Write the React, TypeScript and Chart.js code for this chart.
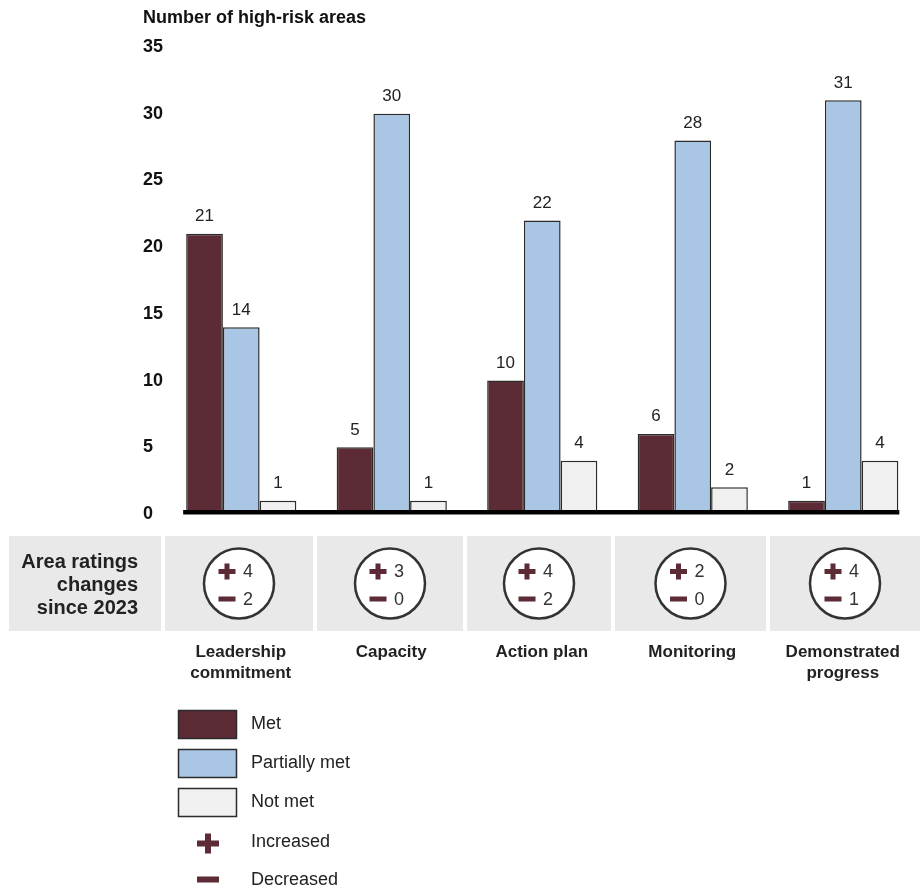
import React, { useEffect, useRef } from "react";
import { Chart, registerables } from "chart.js";

Chart.register(...registerables);

// Chart content
const axisTitle = "Number of high-risk areas";
const categories = [
  ["Leadership", "commitment"],
  ["Capacity"],
  ["Action plan"],
  ["Monitoring"],
  ["Demonstrated", "progress"],
];
const seriesNames = ["Met", "Partially met", "Not met"];
const metValues = [21, 5, 10, 6, 1];
const partiallyMetValues = [14, 30, 22, 28, 31];
const notMetValues = [1, 1, 4, 2, 4];
const increasedCounts = [4, 3, 4, 2, 4];
const decreasedCounts = [2, 0, 2, 0, 1];
const panelLabel = ["Area ratings", "changes", "since 2023"];
const markerNames = ["Increased", "Decreased"];
const yMin = 0;
const yMax = 35;
const yStep = 5;

// Styling
const FONT = '"Liberation Sans", Arial, Helvetica, sans-serif';
const MAROON = "#5c2b35";
const BLUE = "#a9c6e4";
const LIGHT = "#f0f0f0";
const EDGE = "#2b2b2b";
const PANEL = "#e9e9e9";
const TEXT = "#222222";
const seriesColors = [MAROON, BLUE, LIGHT];

// Horizontal extents of the grey cells in the ratings-change strip
const cellLefts = [165, 317, 467, 615, 770];
const cellRights = [313, 463, 611, 766, 920];

function drawPlus(ctx: CanvasRenderingContext2D, x: number, y: number, w: number, h: number, t: number) {
  ctx.fillStyle = MAROON;
  ctx.fillRect(x - w / 2, y - t / 2, w, t);
  ctx.fillRect(x - t / 2, y - h / 2, t, h);
}

function drawMinus(ctx: CanvasRenderingContext2D, x: number, y: number, w: number, t: number) {
  ctx.fillStyle = MAROON;
  ctx.fillRect(x - w / 2, y - t / 2, w, t);
}

const overlayPlugin = {
  id: "overlay",
  afterDatasetsDraw(chart: any) {
    const ctx: CanvasRenderingContext2D = chart.ctx;
    const area = chart.chartArea;
    const xs = chart.scales.x;
    ctx.save();

    // axis title
    ctx.fillStyle = "#111";
    ctx.font = `bold 18px ${FONT}`;
    ctx.textAlign = "left";
    ctx.textBaseline = "alphabetic";
    ctx.fillText(axisTitle, 143, 22.5);

    // value labels above bars
    ctx.font = `17px ${FONT}`;
    ctx.fillStyle = TEXT;
    ctx.textAlign = "center";
    chart.data.datasets.forEach((ds: any, di: number) => {
      const meta = chart.getDatasetMeta(di);
      meta.data.forEach((bar: any, i: number) => {
        ctx.fillText(String(ds.data[i]), bar.x, bar.y - 12.5);
      });
    });

    // heavy baseline
    const firstBar = chart.getDatasetMeta(0).data[0];
    const lastMeta = chart.getDatasetMeta(chart.data.datasets.length - 1);
    const lastBar = lastMeta.data[lastMeta.data.length - 1];
    const lineLeft = firstBar.x - firstBar.width / 2 - 3;
    const lineRight = lastBar.x + lastBar.width / 2 + 1;
    ctx.fillStyle = "#000";
    ctx.fillRect(lineLeft, area.bottom - 4, lineRight - lineLeft, 4.5);

    // ratings-change strip
    const panelTop = 536;
    const panelH = 95;
    ctx.fillStyle = PANEL;
    ctx.fillRect(9, panelTop, 152, panelH);
    ctx.fillStyle = TEXT;
    ctx.font = `bold 20px ${FONT}`;
    ctx.textAlign = "right";
    [568, 591, 614].forEach((y, i) => ctx.fillText(panelLabel[i], 138, y));

    categories.forEach((_, i) => {
      const left = cellLefts[i];
      const right = cellRights[i];
      ctx.fillStyle = PANEL;
      ctx.fillRect(left, panelTop, right - left, panelH);

      const cx = (left + right) / 2;
      const cy = 583.5;
      ctx.beginPath();
      ctx.arc(cx, cy, 35, 0, Math.PI * 2);
      ctx.fillStyle = "#fff";
      ctx.fill();
      ctx.lineWidth = 2.5;
      ctx.strokeStyle = "#333";
      ctx.stroke();

      drawPlus(ctx, cx - 12, cy - 12, 17, 16, 5);
      drawMinus(ctx, cx - 12, cy + 15.5, 17, 5);
      ctx.fillStyle = "#333";
      ctx.font = `18px ${FONT}`;
      ctx.textAlign = "left";
      ctx.fillText(String(increasedCounts[i]), cx + 4, cy - 6.5);
      ctx.fillText(String(decreasedCounts[i]), cx + 4, cy + 21.5);

      // category label
      const c = xs.getPixelForValue(i);
      ctx.fillStyle = TEXT;
      ctx.font = `bold 17px ${FONT}`;
      ctx.textAlign = "center";
      categories[i].forEach((line, li) => ctx.fillText(line, c - 0.5, 657 + li * 21));
    });

    // legend
    ctx.textAlign = "left";
    ctx.font = `18px ${FONT}`;
    seriesNames.forEach((name, i) => {
      const top = 710 + i * 39;
      ctx.fillStyle = seriesColors[i];
      ctx.fillRect(178, top, 59, 29);
      ctx.lineWidth = 1.5;
      ctx.strokeStyle = EDGE;
      ctx.strokeRect(178.5, top + 0.5, 58, 28);
      ctx.fillStyle = TEXT;
      ctx.fillText(name, 251, 729 + i * 39);
    });
    drawPlus(ctx, 208, 843.5, 22, 20, 6);
    ctx.fillStyle = TEXT;
    ctx.fillText(markerNames[0], 251, 846.5);
    drawMinus(ctx, 208, 879.5, 22, 6);
    ctx.fillStyle = TEXT;
    ctx.fillText(markerNames[1], 251, 885);

    ctx.restore();
  },
};

export default function App() {
  const canvasRef = useRef<HTMLCanvasElement | null>(null);

  useEffect(() => {
    const canvas = canvasRef.current;
    if (!canvas) return;
    const chart = new Chart(canvas, {
      type: "bar",
      data: {
        labels: categories.map((c) => c.join(" ")),
        datasets: [
          { label: seriesNames[0], data: metValues, backgroundColor: MAROON },
          { label: seriesNames[1], data: partiallyMetValues, backgroundColor: BLUE },
          { label: seriesNames[2], data: notMetValues, backgroundColor: LIGHT },
        ].map((d) => ({
          ...d,
          borderColor: EDGE,
          borderWidth: 1.5,
          borderSkipped: "bottom" as const,
          categoryPercentage: 0.732,
          barPercentage: 1,
        })),
      },
      options: {
        responsive: false,
        animation: false,
        devicePixelRatio: 1,
        layout: { padding: { left: 143, right: 3.5, top: 47, bottom: 378 } },
        plugins: {
          legend: { display: false },
          tooltip: { enabled: false },
          title: { display: false },
        },
        scales: {
          x: { display: false },
          y: {
            min: yMin,
            max: yMax,
            grid: { display: false },
            border: { display: false },
            ticks: {
              stepSize: yStep,
              crossAlign: "far",
              padding: 0,
              color: "#111",
              font: { family: FONT, size: 18, weight: "bold" },
            },
            afterFit(scale: any) {
              scale.width = 23;
            },
          },
        },
      },
      plugins: [overlayPlugin],
    });
    return () => chart.destroy();
  }, []);

  return (
    <div style={{ position: "absolute", left: 0, top: 0, width: 922, height: 892, background: "#fff" }}>
      <canvas ref={canvasRef} width={922} height={892} style={{ display: "block" }} />
    </div>
  );
}
